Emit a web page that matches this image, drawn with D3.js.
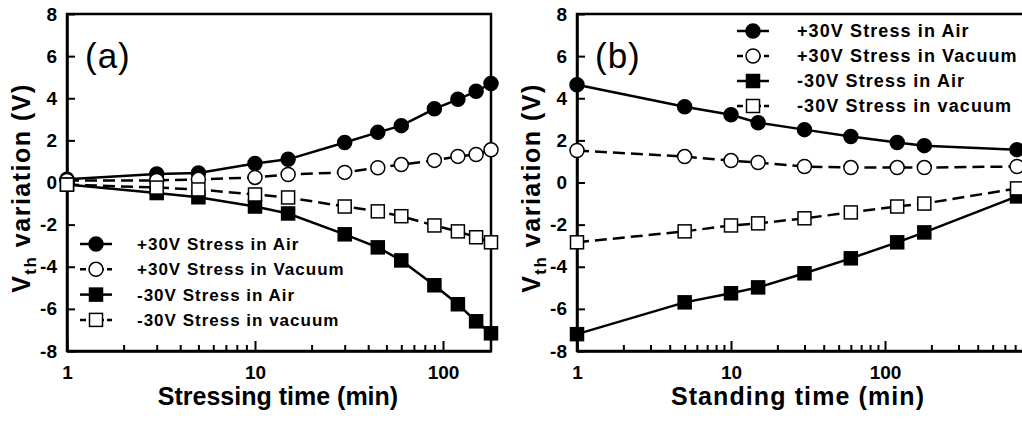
<!DOCTYPE html>
<html>
<head>
<meta charset="utf-8">
<script src="https://cdn.jsdelivr.net/npm/d3@7"></script>
<style>
  body { margin: 0; background: #fff; }
  text { font-family: Arial, "Liberation Sans", sans-serif; fill: #000; }
</style>
</head>
<body>
<script>
// stressing experiment (a)
var stressTime = [1, 3, 5, 10, 15, 30, 45, 60, 90, 120, 150, 180];
var stressPosAir = [0.15, 0.4, 0.45, 0.9, 1.1, 1.9, 2.38, 2.7, 3.5, 3.95, 4.33, 4.7];
var stressPosVac = [0.1, 0.1, 0.15, 0.24, 0.38, 0.48, 0.7, 0.85, 1.05, 1.24, 1.33, 1.55];
var stressNegAir = [-0.1, -0.5, -0.7, -1.14, -1.47, -2.46, -3.08, -3.7, -4.88, -5.78, -6.59, -7.16];
var stressNegVac = [-0.1, -0.24, -0.33, -0.57, -0.71, -1.14, -1.37, -1.6, -2.04, -2.32, -2.6, -2.84];

// standing (recovery) experiment (b)
var standTime = [1, 5, 10, 15, 30, 60, 120, 180, 720];
var standPosAir = [4.64, 3.6, 3.22, 2.84, 2.51, 2.18, 1.9, 1.75, 1.56];
var standPosVac = [1.52, 1.23, 1.04, 0.95, 0.76, 0.71, 0.71, 0.71, 0.76];
var standNegAir = [-7.2, -5.69, -5.26, -4.98, -4.31, -3.6, -2.84, -2.37, -0.66];
var standNegVac = [-2.84, -2.32, -2.04, -1.94, -1.7, -1.42, -1.14, -1.0, -0.28];

var seriesNames = ["+30V Stress in Air", "+30V Stress in Vacuum", "-30V Stress in Air", "-30V Stress in vacuum"];
var yTicks = [-8, -6, -4, -2, 0, 2, 4, 6, 8];
var xLabels = [1, 10, 100];

// marker look per series (filled/open, circle/square, solid/dashed)
var styles = [
  {shape: "circle", fill: "#000", dash: null},
  {shape: "circle", fill: "#fff", dash: "12,6"},
  {shape: "square", fill: "#000", dash: null},
  {shape: "square", fill: "#fff", dash: "12,6"}
];

var width = 1022, height = 422;

var svg = d3.select("body").append("svg")
  .attr("width", width)
  .attr("height", height);

function drawMarker(sel, st) {
  if (st.shape === "circle") {
    sel.append("circle").attr("r", 7);
  } else {
    sel.append("rect").attr("x", -6.5).attr("y", -6.5).attr("width", 13).attr("height", 13);
  }
  sel.selectAll("circle,rect")
    .attr("fill", st.fill)
    .attr("stroke", "#000")
    .attr("stroke-width", 1.5);
}

function drawPanel(p) {
  var x = d3.scaleLog().domain(p.xDomain).range(p.xRange);
  var y = d3.scaleLinear().domain([-8, 8]).range([351, 14]);
  var g = svg.append("g");

  // frame
  g.append("rect")
    .attr("x", p.xRange[0]).attr("y", 14)
    .attr("width", p.xRange[1] - p.xRange[0]).attr("height", 351 - 14)
    .attr("fill", "none").attr("stroke", "#000").attr("stroke-width", 2.5);

  // y axis, ticks pointing inside
  g.append("g")
    .attr("transform", `translate(${p.xRange[0]},0)`)
    .call(d3.axisLeft(y).tickValues(yTicks).tickSize(-8).tickSizeOuter(0).tickPadding(10)
      .tickFormat(d => String(d)))
    .call(a => a.select(".domain").attr("stroke-width", 2.5))
    .call(a => a.selectAll(".tick line").attr("stroke-width", 2))
    .call(a => a.selectAll("text").attr("font-size", 19).attr("font-weight", "bold").attr("fill", "#000"));

  // x axis: minor ticks (and 1000, which falls outside the picture)
  var minor = [];
  [1, 10, 100].forEach(function (dec) {
    for (var k = 2; k <= 10; k++) {
      if (dec * k <= p.xDomain[1] && !(k === 10 && dec < 100)) minor.push(dec * k);
    }
  });
  g.append("g")
    .attr("transform", "translate(0,351)")
    .call(d3.axisBottom(x).tickValues(minor).tickSize(-6).tickSizeOuter(0).tickFormat(""))
    .call(a => a.select(".domain").remove())
    .call(a => a.selectAll(".tick line").attr("stroke-width", 2));

  // x axis: decades with labels
  g.append("g")
    .attr("transform", "translate(0,351)")
    .call(d3.axisBottom(x).tickValues(xLabels).tickSize(-10).tickSizeOuter(0).tickPadding(15)
      .tickFormat(d => String(d)))
    .call(a => a.select(".domain").attr("stroke-width", 2.5))
    .call(a => a.selectAll(".tick line").attr("stroke-width", 2))
    .call(a => a.selectAll("text").attr("font-size", 19).attr("font-weight", "bold").attr("fill", "#000"));

  // series lines then markers
  var line = d3.line().x(d => x(d[0])).y(d => y(d[1]));
  p.series.forEach(function (vals, i) {
    var pts = p.times.map((t, j) => [t, vals[j]]);
    g.append("path")
      .datum(pts)
      .attr("d", line)
      .attr("fill", "none")
      .attr("stroke", "#000")
      .attr("stroke-width", 2.5)
      .attr("stroke-dasharray", styles[i].dash);
  });
  p.series.forEach(function (vals, i) {
    var pts = p.times.map((t, j) => [t, vals[j]]);
    g.selectAll(".m" + i)
      .data(pts)
      .enter()
      .append("g")
      .attr("class", "m" + i)
      .attr("transform", d => `translate(${x(d[0])},${y(d[1])})`)
      .each(function () { drawMarker(d3.select(this), styles[i]); });
  });

  // legend
  seriesNames.forEach(function (name, i) {
    var ly = p.legend.y + i * p.legend.step;
    var lg = g.append("g");
    lg.append("line")
      .attr("x1", p.legend.x - 16).attr("x2", p.legend.x + 16)
      .attr("y1", ly).attr("y2", ly)
      .attr("stroke", "#000").attr("stroke-width", 2.5)
      .attr("stroke-dasharray", styles[i].dash ? "6,3" : null);
    lg.append("g").attr("transform", `translate(${p.legend.x},${ly})`)
      .call(s => drawMarker(s, styles[i]));
    lg.append("text")
      .attr("x", p.legend.tx).attr("y", ly + 6)
      .attr("font-size", p.legend.size).attr("font-weight", "bold")
      .attr("letter-spacing", p.legend.spacing)
      .text(name);
  });

  // panel label
  g.append("text")
    .attr("x", p.xRange[0] + 18).attr("y", 68)
    .attr("font-size", 35).attr("letter-spacing", 1)
    .text(p.label);

  // axis titles
  g.append("text")
    .attr("x", p.titleX).attr("y", 405)
    .attr("text-anchor", "middle")
    .attr("font-size", 25).attr("font-weight", "bold")
    .attr("letter-spacing", p.titleSpacing)
    .text(p.xTitle);

  var yt = g.append("text")
    .attr("transform", `translate(${p.xRange[0] - 37},188) rotate(-90)`)
    .attr("text-anchor", "middle")
    .attr("font-size", 25).attr("font-weight", "bold")
    .attr("letter-spacing", 1.5);
  yt.append("tspan").text("V");
  yt.append("tspan").attr("font-size", 17).attr("dy", 6).text("th");
  yt.append("tspan").attr("dy", -6).text(" variation (V)");
}

drawPanel({
  xDomain: [1, 180], xRange: [67, 491],
  times: stressTime,
  series: [stressPosAir, stressPosVac, stressNegAir, stressNegVac],
  legend: {x: 96, y: 244, step: 25.3, tx: 137, size: 17, spacing: 1},
  label: "(a)", xTitle: "Stressing time (min)", titleX: 278, titleSpacing: 0
});

drawPanel({
  xDomain: [1, 1000], xRange: [577, 1039],
  times: standTime,
  series: [standPosAir, standPosVac, standNegAir, standNegVac],
  legend: {x: 753, y: 31, step: 25, tx: 797, size: 18, spacing: 1.1},
  label: "(b)", xTitle: "Standing time (min)", titleX: 798, titleSpacing: 1.1
});
</script>
</body>
</html>
